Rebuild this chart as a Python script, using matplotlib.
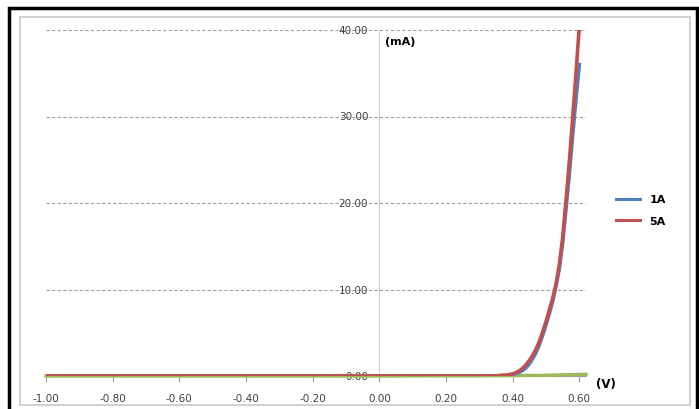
import matplotlib.pyplot as plt
from matplotlib.patches import Rectangle

# I-V curves (V in volts, I in mA)
v_1a = [-1.00, 0.00, 0.30, 0.35, 0.38, 0.40, 0.41, 0.42, 0.43, 0.44, 0.45, 0.46, 0.47,
        0.48, 0.49, 0.50, 0.51, 0.52, 0.53, 0.54, 0.55, 0.56, 0.57, 0.58, 0.59, 0.60]
i_1a = [0.0, 0.0, 0.0, 0.02, 0.08, 0.18, 0.28, 0.42, 0.65, 0.95, 1.4, 2.0, 2.7,
        3.6, 4.7, 5.9, 7.2, 8.6, 10.4, 12.4, 15.4, 19.3, 23.3, 27.8, 32.0, 36.0]

v_5a = [-1.00, 0.00, 0.30, 0.35, 0.38, 0.40, 0.41, 0.42, 0.43, 0.44, 0.45, 0.46, 0.47,
        0.48, 0.49, 0.50, 0.51, 0.52, 0.53, 0.54, 0.55, 0.56, 0.57, 0.58, 0.59, 0.60]
i_5a = [0.0, 0.0, 0.0, 0.03, 0.1, 0.25, 0.4, 0.6, 0.9, 1.3, 1.8, 2.4, 3.1,
        4.0, 5.1, 6.3, 7.6, 9.0, 10.6, 12.9, 16.0, 20.3, 24.8, 29.8, 35.0, 40.5]

v_green = [-1.00, 0.00, 0.30, 0.50, 0.62]
i_green = [0.0, 0.0, 0.02, 0.08, 0.2]

xticks = [-1.0, -0.8, -0.6, -0.4, -0.2, 0.0, 0.2, 0.4, 0.6]
yticks = [0, 10, 20, 30, 40]

W, H = 699, 410
fig = plt.figure(figsize=(W / 100, H / 100), dpi=100)

# frame around the picture
fig.patches.append(Rectangle((9 / W, -0.02), 688 / W, 1 - 9 / H + 0.02, transform=fig.transFigure,
                             fill=False, edgecolor='black', linewidth=2.5))
fig.patches.append(Rectangle((20 / W, 1 - 406 / H), 670 / W, 388 / H, transform=fig.transFigure,
                             fill=False, edgecolor='#c8c8c8', linewidth=1.2))

ax = fig.add_axes([46 / W, 1 - 377 / H, 540 / W, 346 / H])

for y in yticks[1:]:
    ax.axhline(y, color='#a0a0a0', linestyle=(0, (3, 2)), linewidth=0.8, zorder=1)

ax.plot(v_green, i_green, color='#9bbb59', linewidth=2.4, zorder=3, clip_on=False)
ax.plot(v_1a, i_1a, color='#4f81bd', linewidth=2.6, label='1A', zorder=4)
ax.plot(v_5a, i_5a, color='#c0504d', linewidth=2.6, label='5A', zorder=5)

ax.set_xlim(-1.0, 0.62)
ax.set_ylim(0, 40)

for s in ['top', 'right']:
    ax.spines[s].set_visible(False)
ax.spines['left'].set_position(('data', 0))
ax.spines['left'].set_color('#d0d0d0')
ax.spines['bottom'].set_color('#a0a0a0')

ax.set_xticks(xticks)
ax.set_xticklabels([f'{x:.2f}' for x in xticks], fontsize=7.5, color='#404040')
ax.set_yticks(yticks)
ax.set_yticklabels([f'{y:.2f}' for y in yticks], fontsize=7.5, color='#404040')
ax.tick_params(axis='x', length=4, color='#a0a0a0', pad=8)
ax.tick_params(axis='y', length=0, pad=8)
for lab in ax.get_yticklabels():
    lab.set_verticalalignment('center')

fig.text(385 / W, 1 - 42 / H, '(mA)', fontsize=8, fontweight='bold', va='center', ha='left')
fig.text(596 / W, 1 - 385 / H, '(V)', fontsize=8.5, fontweight='bold', va='center', ha='left')

leg = fig.legend(loc='center left', bbox_to_anchor=(606 / W, 1 - 211 / H), frameon=False,
                 handlelength=2.2, labelspacing=1.0, prop={'weight': 'bold', 'size': 8})
for line in leg.get_lines():
    line.set_linewidth(2.2)

fig.savefig('out.png', dpi=100)
